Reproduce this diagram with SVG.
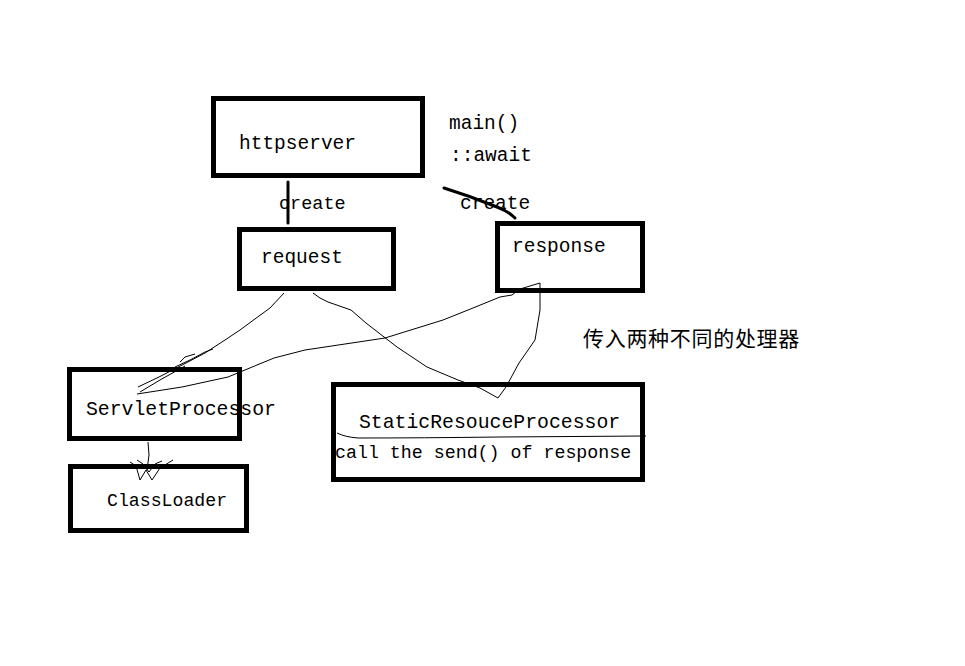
<svg xmlns="http://www.w3.org/2000/svg" width="965" height="666" viewBox="0 0 965 666">
<style>
.box{fill:none;stroke:#000;stroke-width:5}
.t{font-family:"Liberation Mono","DejaVu Sans Mono",monospace;fill:#000;font-size:19.5px}
.cjk{font-family:"Noto Sans CJK SC","Noto Sans",sans-serif;fill:#000;font-size:21px;letter-spacing:0.7px}
.thin{fill:none;stroke:#000;stroke-width:1}
.thick{fill:none;stroke:#000;stroke-width:3;stroke-linecap:round}
</style>
<rect width="965" height="666" fill="#fff"/>
<g id="connectors">
<path class="thick" d="M288,182 L288,223"/>
<path class="thick" d="M444,188 Q470,196 497,207 Q508,211 515,218"/>
<path class="thin" d="M284,293 L270,308 L259,316 L240,330 L225,340 L205,353 L186,363 L159,377 L138,387"/>
<path class="thin" d="M175,367 L190,360 L205,352 L213,349 M180,362 L185,357 L195,354 M140,392 L160,380 L185,366"/>
<path class="thin" d="M313,293 L320,298 L328,302 L351,310 L366,323 L397,347 L427,367 L458,380 L480,388 L498,398 L506,387 L519,363 L535,340 L540,310 L540,283"/>
<path class="thin" d="M540,283 L520,289 L512,295 L500,297 L473,308 L443,320 L385,338 L305,350 L274,358 L228,377 L182,387 L137,394"/>
<path class="thin" d="M148,442 L149,455 L147,470 M130,462 L136,466 L140,480 L146,470 L152,480 L160,468 L173,460 M137,460 L143,464 L149,472 L155,464 L162,461"/>
<path class="thin" d="M337,433 Q345,437 358,438 Q420,438 500,437 L646,436"/>
</g>
<g id="httpserver">
<rect class="box" x="213.5" y="98.5" width="209" height="77"/>
<text class="t" x="239" y="149">httpserver</text>
</g>
<g id="main-label">
<text class="t" x="449" y="129">main()</text>
<text class="t" x="450" y="161">::await</text>
</g>
<g id="create-labels">
<text class="t" x="279" y="209" style="font-size:18.5px">create</text>
<text class="t" x="460" y="209">create</text>
</g>
<g id="request">
<rect class="box" x="239.5" y="229.5" width="154" height="59"/>
<text class="t" x="261" y="263">request</text>
</g>
<g id="response">
<rect class="box" x="497.5" y="223.5" width="145" height="67"/>
<text class="t" x="512" y="252">response</text>
</g>
<g id="note">
<text class="cjk" x="583" y="346">传入两种不同的处理器</text>
</g>
<g id="ServletProcessor">
<rect class="box" x="69.5" y="369.5" width="170" height="69"/>
<text class="t" x="86" y="415" style="font-size:19.8px">ServletProcessor</text>
</g>
<g id="StaticResouceProcessor">
<rect class="box" x="333.5" y="384.5" width="309" height="95"/>
<text class="t" x="359" y="428" style="font-size:19.8px">StaticResouceProcessor</text>
<text class="t" x="335" y="458" style="font-size:18.3px">call the send() of response</text>
</g>
<g id="ClassLoader">
<rect class="box" x="70.5" y="466.5" width="176" height="64"/>
<text class="t" x="107" y="506" style="font-size:18.2px">ClassLoader</text>
</g>
</svg>
